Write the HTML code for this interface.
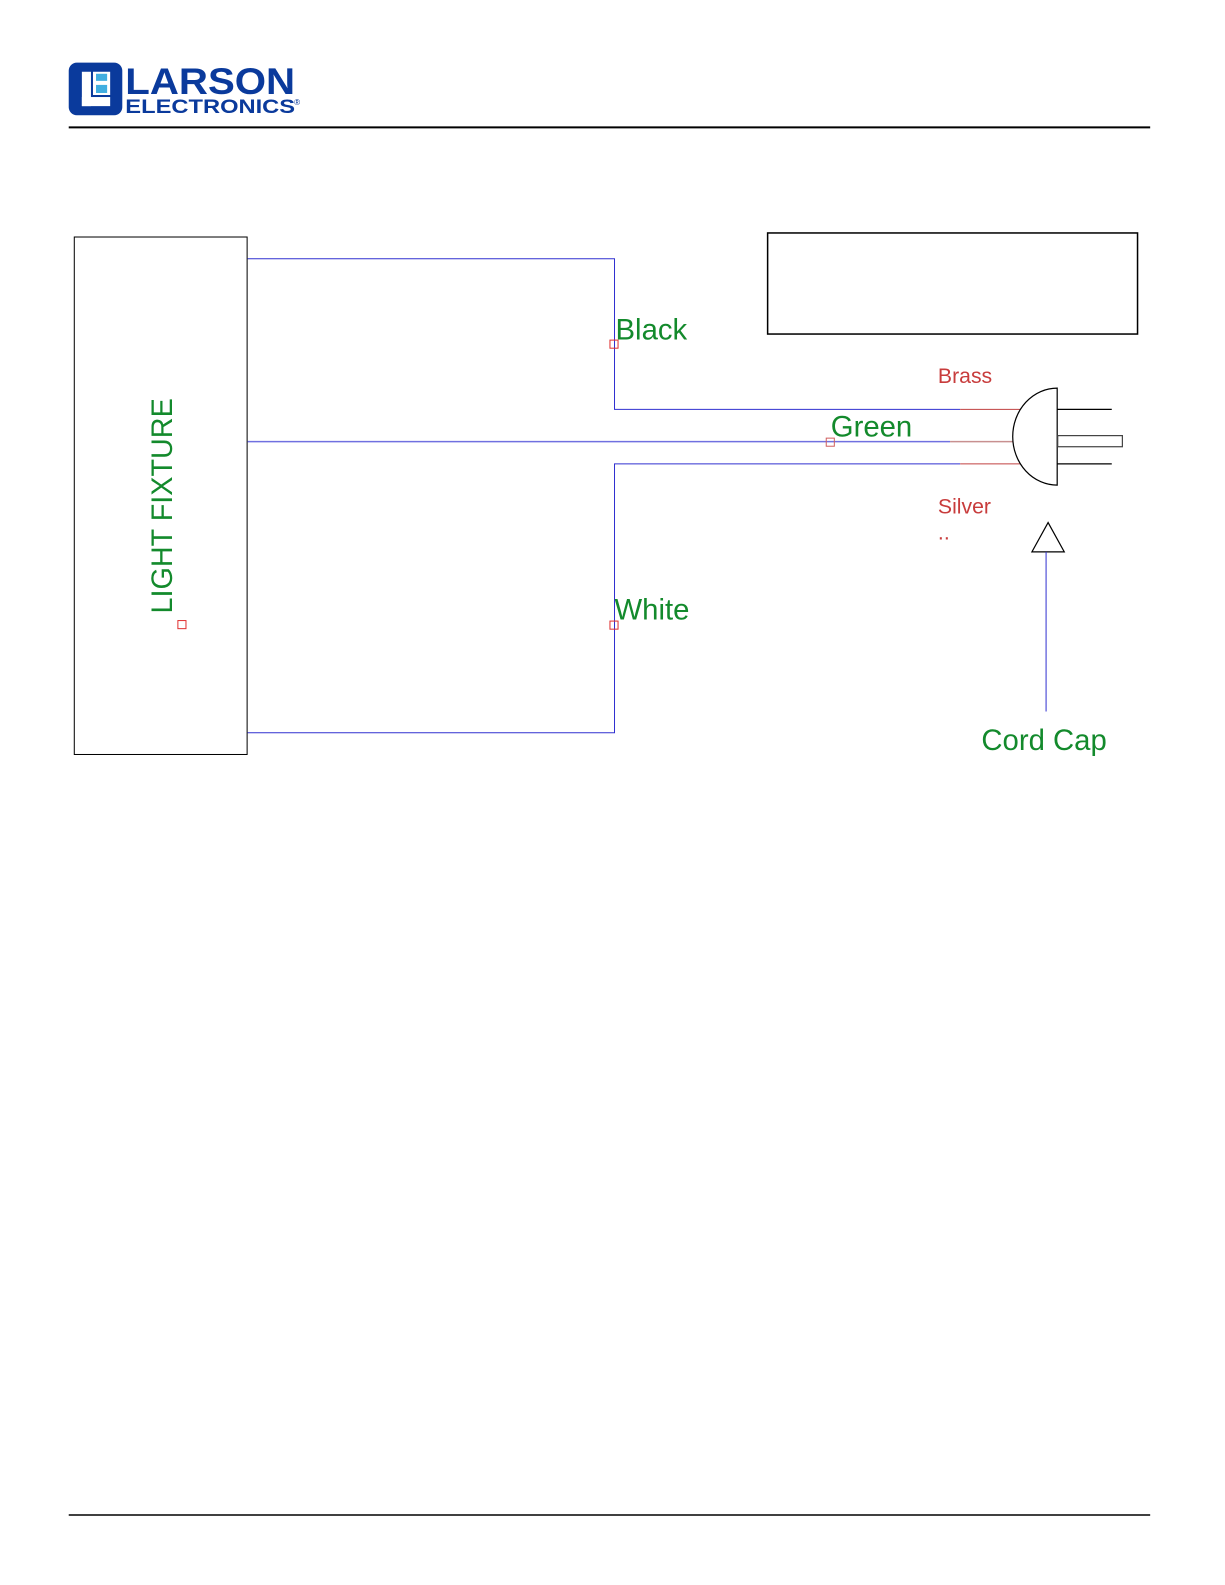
<!DOCTYPE html>
<html><head><meta charset="utf-8"><style>
html,body{margin:0;padding:0;background:#fff;}
svg{display:block;font-family:"Liberation Sans",Arial,sans-serif;}
</style></head><body>
<svg width="1225" height="1585" viewBox="0 0 1225 1585" xmlns="http://www.w3.org/2000/svg">
<g transform="scale(1.0107)">
<!-- logo -->
<rect x="68" y="62" width="53" height="52" rx="8" fill="#0a3a9c"/>
<rect x="81" y="71" width="9" height="34" fill="#fff"/>
<rect x="81" y="96" width="28" height="9" fill="#fff"/>
<rect x="92" y="71" width="17" height="23" fill="#fff"/>
<rect x="95" y="73" width="11" height="7" fill="#41aee0"/>
<rect x="95" y="84" width="11" height="8" fill="#41aee0"/>
<text x="124" y="93" font-size="37" font-weight="bold" fill="#0a3a9c" textLength="168" lengthAdjust="spacingAndGlyphs">LARSON</text>
<text x="124" y="112" font-size="19" font-weight="bold" fill="#0a3a9c" textLength="168" lengthAdjust="spacingAndGlyphs">ELECTRONICS</text>
<text x="291" y="104" font-size="8" fill="#0a3a9c">®</text>
<line x1="68" y1="126" x2="1138" y2="126" stroke="#000" stroke-width="2"/>
<line x1="68" y1="1499" x2="1138" y2="1499" stroke="#000" stroke-width="1.5"/>

<!-- fixture box -->
<rect x="73.5" y="234.5" width="171" height="512" fill="none" stroke="#000" stroke-width="1"/>
<text transform="translate(170,607) rotate(-90)" font-size="29" fill="#138a2c" textLength="213" lengthAdjust="spacingAndGlyphs">LIGHT FIXTURE</text>
<rect x="176" y="614" width="8" height="8" fill="none" stroke="#e03030" stroke-width="1"/>

<!-- top box -->
<rect x="759.5" y="230.5" width="366" height="100" fill="none" stroke="#000" stroke-width="1.5"/>

<!-- wires -->
<g fill="none" stroke="#3030d0" stroke-width="1">
<polyline points="245,256 608,256 608,405 950,405"/>
<polyline points="245,725 608,725 608,459 950,459"/>
<line x1="245" y1="437" x2="940" y2="437" stroke="#7070e0" stroke-width="1.5"/>
</g>
<g stroke="#c04040" stroke-width="1">
<line x1="950" y1="405" x2="1025" y2="405"/>
<line x1="950" y1="459" x2="1025" y2="459"/>
<line x1="940" y1="437" x2="1003" y2="437" stroke="#c89090" stroke-width="1.5"/>
</g>
<rect x="603.5" y="336.5" width="8" height="8" fill="none" stroke="#e03030"/>
<rect x="603.5" y="614.5" width="8" height="8" fill="none" stroke="#e03030"/>
<rect x="817.5" y="433.5" width="8" height="8" fill="none" stroke="#d06060"/>

<text x="609" y="336" font-size="29" fill="#138a2c">Black</text>
<text x="822" y="432" font-size="29" fill="#138a2c">Green</text>
<text x="608" y="613" font-size="29" fill="#138a2c">White</text>
<text x="971" y="742" font-size="29" fill="#138a2c">Cord Cap</text>
<text x="928" y="379" font-size="21" fill="#c83c3c">Brass</text>
<text x="928" y="508" font-size="21" fill="#c83c3c">Silver</text>
<text x="928" y="534" font-size="21" fill="#c83c3c">..</text>

<!-- plug -->
<path d="M1046,384 A44,48 0 0 0 1046,480 Z" fill="#fff" stroke="#000" stroke-width="1.2"/>
<line x1="1046" y1="405" x2="1100" y2="405" stroke="#000" stroke-width="1.2"/>
<line x1="1046" y1="459" x2="1100" y2="459" stroke="#000" stroke-width="1.2"/>
<rect x="1046.5" y="431" width="64" height="11" fill="#fff" stroke="#444" stroke-width="1.2"/>

<!-- arrow -->
<polygon points="1037,517 1021,546 1053,546" fill="#fff" stroke="#000" stroke-width="1.2"/>
<line x1="1035" y1="546" x2="1035" y2="704" stroke="#3030d0" stroke-width="1"/>
</g>
</svg>
</body></html>
